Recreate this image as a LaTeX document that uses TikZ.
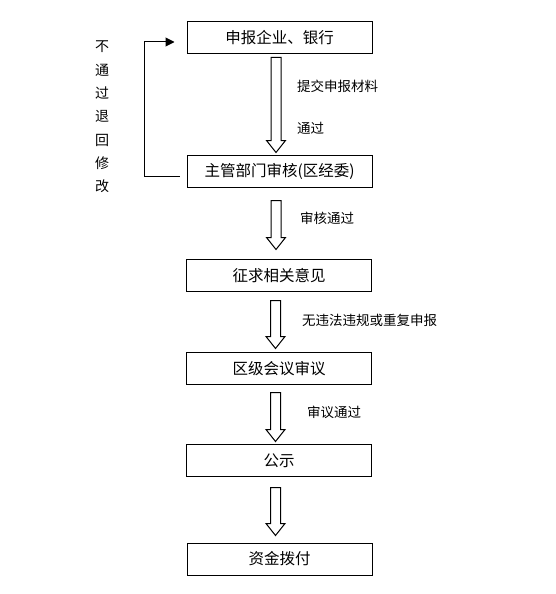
\documentclass[tikz,border=0pt]{standalone}
\usepackage{fontspec}
\setmainfont{Noto Sans CJK SC}
\usetikzlibrary{positioning,calc,arrows.meta}

\tikzset{
  stepbox/.style={draw=black,line width=1pt,minimum width=185pt,minimum height=32pt,
    inner sep=0pt,font=\fontsize{15.5}{18}\selectfont},
  flowlabel/.style={anchor=west,inner sep=0pt,font=\fontsize{13.5}{16}\selectfont},
}

% hollow block arrow from the bottom of #1 to the top of #2, gaps #3 and #4
\newcommand{\hollowarrow}[4]{%
  \draw[line width=1pt,line join=miter] let \p1=(#1.south), \p2=(#2.north) in
    (\x1-8.5pt,\y1-#3) -- (\x1-8.5pt,\y2+#4+12pt) -- (\x1-13pt,\y2+#4+12pt)
    -- (\x1-3.5pt,\y2+#4) -- (\x1+6pt,\y2+#4+12pt) -- (\x1+1.5pt,\y2+#4+12pt)
    -- (\x1+1.5pt,\y1-#3) -- cycle;}

\begin{document}
\begin{tikzpicture}[x=1pt,y=1pt]
\useasboundingbox (0,0) rectangle (555,-594);

\node[stepbox] (apply)   at (279.5,-37.5)  {申报企业、银行};
\node[stepbox] (review)  at (279.5,-171.5) {主管部门审核(区经委)};
\node[stepbox] (opinion) at (279,-275.5)   {征求相关意见};
\node[stepbox] (meeting) at (279,-368.5)   {区级会议审议};
\node[stepbox] (notice)  at (279,-460.5)   {公示};
\node[stepbox] (fund)    at (279.5,-559)   {资金拨付};

\hollowarrow{apply}{review}{3.5pt}{2.5pt}
\hollowarrow{review}{opinion}{12.5pt}{9.5pt}
\hollowarrow{opinion}{meeting}{8.5pt}{3.5pt}
\hollowarrow{meeting}{notice}{7.5pt}{2.5pt}
\hollowarrow{notice}{fund}{10.5pt}{7pt}

\node[flowlabel] (submit) at (297,-86)  {提交申报材料};
\node[flowlabel] (pass)   at (297,-128) {通过};
\node[flowlabel] (check)  at (300,-218) {审核通过};
\node[flowlabel] (legal)  at (302,-320) {无违法违规或重复申报};
\node[flowlabel] (agree)  at (307,-412) {审议通过};

% back loop
\draw[line width=1pt,-{Triangle[length=9pt,width=9pt]}]
  ([xshift=-7pt,yshift=-5pt]review.west) -- ++(-35,0)
  |- ([xshift=-12pt,yshift=-4.5pt]apply.west);
\node[align=center,inner sep=0pt,font=\fontsize{14}{23.3}\selectfont] (reject) at (102,-117)
  {不\\通\\过\\退\\回\\修\\改};
\end{tikzpicture}
\end{document}
